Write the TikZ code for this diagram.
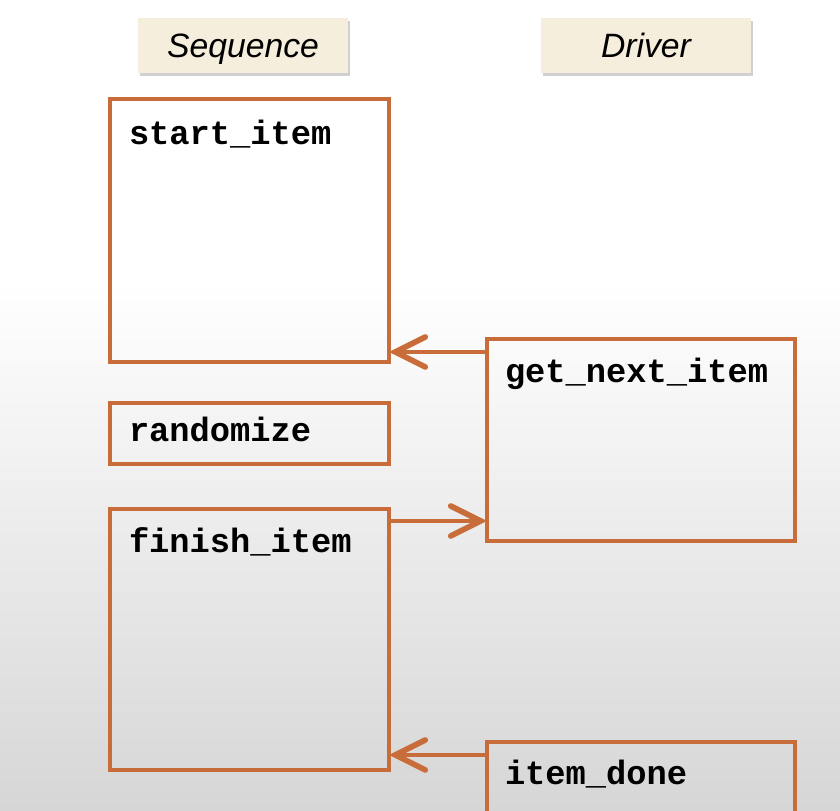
\documentclass[tikz,border=0pt]{standalone}
\usepackage{fontspec}
\newfontfamily\codefont{Liberation Mono}
\newfontfamily\headfont{Liberation Sans}
\usetikzlibrary{arrows.meta,shadows}
\definecolor{boxorange}{RGB}{200,108,58}
\definecolor{headfill}{RGB}{246,238,220}
\definecolor{bggray}{RGB}{214,214,214}
\begin{document}
\begin{tikzpicture}[inner sep=0pt,outer sep=0pt,
callbox/.style={draw=boxorange,rectangle,line width=0.1cm,minimum width=6.975cm},
drvbox/.style={draw=boxorange,rectangle,line width=0.1cm,minimum width=7.7cm},
headbox/.style={rectangle,fill=headfill,minimum width=5.25cm,minimum height=1.375cm,
  text height=0.8cm,text depth=0.18cm,
  drop shadow={shadow xshift=0.04cm,shadow yshift=-0.07cm,fill=gray!60,opacity=0.6},
  font=\headfont\itshape\fontsize{24}{28}\selectfont},
calltext/.style={anchor=base west,font=\codefont\bfseries\fontsize{24}{28}\selectfont},
arr/.style={draw=boxorange,line width=0.1cm,
  -{Straight Barb[length=0.75cm,width=0.75cm,line width=0.14cm,line cap=round]}}]
\useasboundingbox (0,0) rectangle (21,-20.275);
\clip (0,0) rectangle (21,-20.275);
% background
\fill[white] (0,0) rectangle (21,-7);
\shade[top color=white,bottom color=bggray] (0,-7) rectangle (21,-20.275);

% column heads
\draw (6.075,-1.1375) node[headbox] (seqhead) {Sequence};
\draw (16.15,-1.1375) node[headbox] (drvhead) {Driver};

% sequence side
\draw (6.2375,-5.7625) node[callbox,minimum height=6.575cm] (sitem) {};
\draw (6.2375,-10.8375) node[callbox,minimum height=1.525cm] (rand) {};
\draw (6.2375,-15.9875) node[callbox,minimum height=6.525cm] (fitem) {};
\draw (sitem.north west) ++(0.475,-1.15) node[calltext] (sitemtxt) {start\_item};
\draw (rand.north west) ++(0.475,-0.975) node[calltext] (randtxt) {randomize};
\draw (fitem.north west) ++(0.475,-1.1) node[calltext] (fitemtxt) {finish\_item};

% driver side
\draw (16.025,-11.0) node[drvbox,minimum height=5.05cm] (gni) {};
\draw (16.025,-19.775) node[drvbox,minimum height=2.45cm] (idone) {};
\draw (gni.north west) ++(0.45,-1.1) node[calltext] (gnitxt) {get\_next\_item};
\draw (idone.north west) ++(0.45,-1.075) node[calltext] (idonetxt) {item\_done};

% handshake arrows
\draw[arr] (gni.north west) ++(0,-0.325) coordinate (a1) -- (a1 -| sitem.east);
\draw[arr] (fitem.north east) ++(0,-0.3) coordinate (a2) -- (a2 -| gni.west);
\draw[arr] (idone.north west) ++(0,-0.325) coordinate (a3) -- (a3 -| fitem.east);
\end{tikzpicture}
\end{document}
